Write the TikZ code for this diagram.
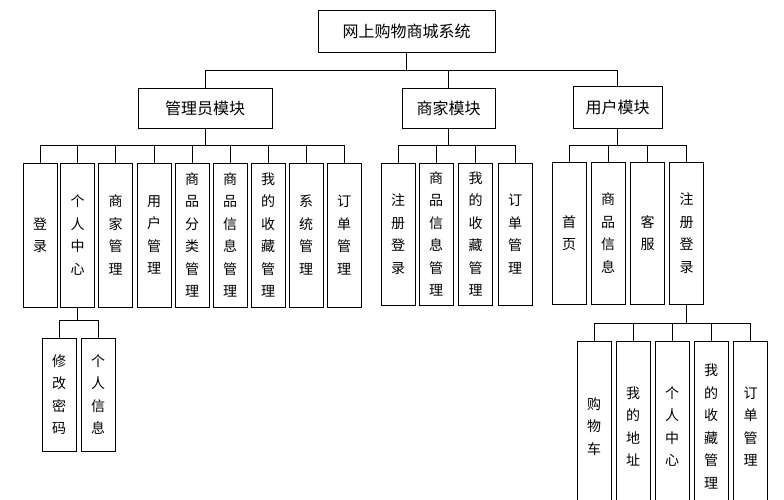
\documentclass[tikz,border=0pt]{standalone}
\usepackage{fontspec}
\setmainfont{Noto Sans CJK SC}
\begin{document}
\begin{tikzpicture}[x=1pt,y=-1pt,
  box/.style={draw,thick,inner sep=0pt,align=center,font=\fontsize{14}{22.5}\selectfont},
  v/.style={box,minimum width=34pt,minimum height=#1pt},
  ln/.style={thick}]
\useasboundingbox (0,0) rectangle (784,500);
\clip (0,0) rectangle (784,500);
\node[box,minimum width=177pt,minimum height=42pt,font=\fontsize{16}{18}\selectfont] (top) at (406.5,31) {网上购物商城系统};
\node[box,minimum width=134pt,minimum height=40pt,font=\fontsize{16}{18}\selectfont] (adm) at (205,108) {管理员模块};
\node[box,minimum width=93pt,minimum height=40pt,font=\fontsize{16}{18}\selectfont] (mer) at (448.5,108) {商家模块};
\node[box,minimum width=89pt,minimum height=42pt,font=\fontsize{16}{18}\selectfont] (usr) at (617.5,107) {用户模块};
\coordinate (b0) at (0,70);
\draw[ln] (top.south) -- (top.south |- b0);
\draw[ln] (adm.north |- b0) -- (usr.north |- b0);
\foreach \n in {adm,mer,usr}{\draw[ln] (\n.north) -- (\n.north |- b0);}
% admin children
\foreach \n/\x/\t in {a1/40/登\\录, a2/77.5/个\\人\\中\\心, a3/115.5/商\\家\\管\\理, a4/154/用\\户\\管\\理, a5/192/商\\品\\分\\类\\管\\理, a6/230/商\\品\\信\\息\\管\\理, a7/268/我\\的\\收\\藏\\管\\理, a8/306/系\\统\\管\\理, a9/344/订\\单\\管\\理}
  {\node[v=144] (\n) at (\x,235) {\t};}
\foreach \n/\x/\t in {m1/398/注\\册\\登\\录, m2/436/商\\品\\信\\息\\管\\理, m3/475.5/我\\的\\收\\藏\\管\\理, m4/515/订\\单\\管\\理}
  {\node[v=142] (\n) at (\x,234) {\t};}
\foreach \n/\x/\t in {u1/569/首\\页, u2/608/商\\品\\信\\息, u3/647.5/客\\服, u4/686.5/注\\册\\登\\录}
  {\node[v=142] (\n) at (\x,233) {\t};}
\coordinate (b1) at (0,145);
\draw[ln] (adm.south) -- (adm.south |- b1);
\draw[ln] (a1.north |- b1) -- (a9.north |- b1);
\foreach \n in {a1,a2,a3,a4,a5,a6,a7,a8,a9}{\draw[ln] (\n.north) -- (\n.north |- b1);}
\draw[ln] (mer.south) -- (mer.south |- b1);
\draw[ln] (m1.north |- b1) -- (m4.north |- b1);
\foreach \n in {m1,m2,m3,m4}{\draw[ln] (\n.north) -- (\n.north |- b1);}
\draw[ln] (usr.south) -- (usr.south |- b1);
\draw[ln] (u1.north |- b1) -- (u4.north |- b1);
\foreach \n in {u1,u2,u3,u4}{\draw[ln] (\n.north) -- (\n.north |- b1);}
% personal centre children
\node[v=113] (p1) at (59,394.5) {修\\改\\密\\码};
\node[v=113] (p2) at (98,394.5) {个\\人\\信\\息};
\coordinate (b2) at (0,320);
\draw[ln] (a2.south) -- (a2.south |- b2);
\draw[ln] (p1.north |- b2) -- (p2.north |- b2);
\foreach \n in {p1,p2}{\draw[ln] (\n.north) -- (\n.north |- b2);}
% user register children
\foreach \n/\x/\t in {r1/594/购\\物\\车, r2/633/我\\的\\地\\址, r3/672/个\\人\\中\\心, r4/711/我\\的\\收\\藏\\管\\理, r5/750.5/订\\单\\管\\理}
  {\node[v=170,anchor=north] (\n) at (\x,341) {\t};}
\coordinate (b3) at (0,323);
\draw[ln] (u4.south) -- (u4.south |- b3);
\draw[ln] (r1.north |- b3) -- (r5.north |- b3);
\foreach \n in {r1,r2,r3,r4,r5}{\draw[ln] (\n.north) -- (\n.north |- b3);}
\end{tikzpicture}
\end{document}
